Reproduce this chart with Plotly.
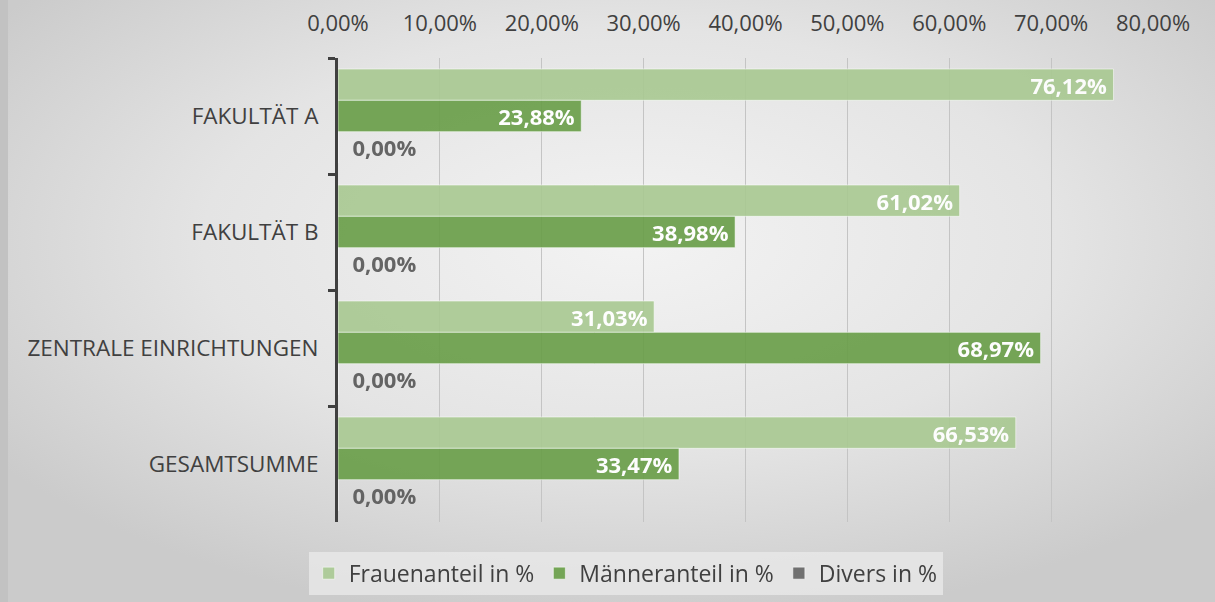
import plotly.graph_objects as go
import base64

categories = ["FAKULTÄT A", "FAKULTÄT B", "ZENTRALE EINRICHTUNGEN", "GESAMTSUMME"]
frauen = [0.7612, 0.6102, 0.3103, 0.6653]
maenner = [0.2388, 0.3898, 0.6897, 0.3347]
divers = [0.0, 0.0, 0.0, 0.0]
series_names = ["Frauenanteil in %", "Männeranteil in %", "Divers in %"]
x_ticks = [0, 0.1, 0.2, 0.3, 0.4, 0.5, 0.6, 0.7, 0.8]

FONT = "Open Sans"
NARROW = "Liberation Sans Narrow, Arial Narrow, Open Sans"
TXT = "#404040"

fig = go.Figure()

def add(vals, name, color, inside=True):
    fig.add_trace(go.Bar(
        y=categories, x=vals, name=name, orientation="h",
        marker=dict(color=color, line=dict(color="rgba(255,255,255,0.55)", width=1)),
        opacity=0.92,
        texttemplate="\u00a0\u00a0%{x:.2%}" if not inside else "%{x:.2%}\u2009",
        textposition="inside" if inside else "outside",
        insidetextanchor="end",
        constraintext="none",
        textfont=dict(family=FONT, size=22, color="white" if inside else "#595959", weight="bold"),
        outsidetextfont=dict(family=FONT, size=22, color="#595959", weight="bold"),
        cliponaxis=False,
    ))

add(frauen, series_names[0], "#a9c993")
add(maenner, series_names[1], "#6a9f4a")
add(divers, series_names[2], "#666666", inside=False)

svg = """<svg xmlns='http://www.w3.org/2000/svg' width='1215' height='602' viewBox='0 0 1215 602' preserveAspectRatio='none'>
<defs><radialGradient id='g' cx='0.52' cy='0.4' r='0.64' gradientUnits='objectBoundingBox'>
<stop offset='0' stop-color='#f3f3f3'/><stop offset='0.55' stop-color='#e4e4e4'/><stop offset='1' stop-color='#cbcbcb'/></radialGradient></defs>
<rect width='1215' height='602' fill='url(#g)'/>
<rect x='0' y='0' width='8' height='602' fill='#c2c2c2'/>
</svg>"""
src = "data:image/svg+xml;base64," + base64.b64encode(svg.encode()).decode()

L, R, T, B = 338, 62, 58, 80
pw, ph = 1215 - L - R, 602 - T - B

fig.add_layout_image(dict(
    source=src, xref="paper", yref="paper",
    x=-L / pw, y=1 + T / ph, sizex=1215 / pw, sizey=602 / ph,
    sizing="stretch", layer="below", xanchor="left", yanchor="top",
))

fig.update_layout(
    width=1215, height=602,
    margin=dict(l=L, r=R, t=T, b=B, autoexpand=False),
    paper_bgcolor="#d8d8d8", plot_bgcolor="rgba(0,0,0,0)",
    barmode="group", bargap=0.19, bargroupgap=0.0,
    separators=",.",
    font=dict(family=FONT, size=22, color=TXT),
    showlegend=True,
    legend=dict(orientation="h", x=0.353, xanchor="center", y=-0.064, yanchor="top",
                bgcolor="rgba(233,233,233,0.8)", font=dict(family=FONT, size=23, color=TXT),
                traceorder="normal", itemwidth=30),
    xaxis=dict(side="top", range=[0, 0.8], tickvals=x_ticks, tickformat=".2%",
               showgrid=True, gridcolor="#c4c4c4", gridwidth=1, zeroline=False,
               showline=False, ticks="", automargin=False, ticklabelstandoff=22,
               tickfont=dict(family=NARROW, size=22, color=TXT)),
    yaxis=dict(autorange="reversed", showline=True, linecolor="#404040", linewidth=3,
               ticks="outside", tickson="boundaries", ticklen=7, tickwidth=3, tickcolor="#404040",
               showgrid=False, automargin=False, ticklabelstandoff=12,
               tickfont=dict(family=FONT, size=22.5, color=TXT)),
)

fig.write_html("out.html", config={"displayModeBar": False},
               post_script="document.body.style.margin='0';document.body.style.overflow='hidden';")
